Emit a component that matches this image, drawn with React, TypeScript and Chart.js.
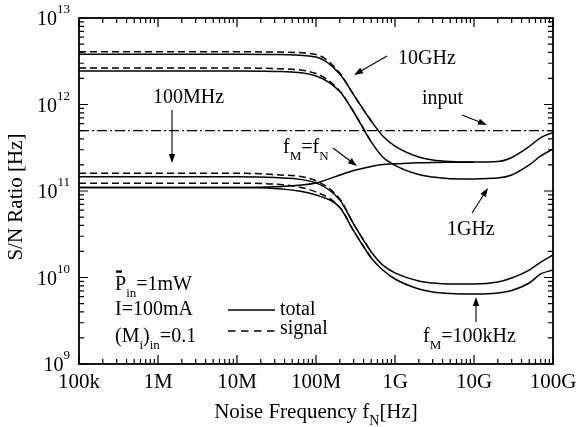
import React, { useEffect, useRef } from 'react';
import { Chart, registerables } from 'chart.js';

Chart.register(...registerables);

// ---------- data ----------
const freqs = [1e5, 1e6, 1e7, 3e7, 1e8, 2e8, 3e8, 5e8, 7e8, 1e9, 2e9, 3e9, 5e9, 1e10, 2e10, 3e10, 5e10, 7e10, 1e11];

const total10G = [3.8e12, 3.8e12, 3.8e12, 3.78e12, 3.54e12, 2.25e12, 1.29e12, 6.44e11, 4.32e11, 3.31e11, 2.47e11, 2.28e11, 2.19e11, 2.16e11, 2.19e11, 2.44e11, 3.27e11, 4.15e11, 4.75e11];
const signal10G = [4.08e12, 4.08e12, 4.08e12, 4.04e12, 3.78e12, 2.31e12, 1.29e12, 6.44e11, null, null, null, null, null, null, null, null, null, null, null];

const total1G = [2.44e12, 2.44e12, 2.44e12, 2.41e12, 2.14e12, 1.41e12, 8.19e11, 3.69e11, 2.47e11, 1.98e11, 1.55e11, 1.45e11, 1.39e11, 1.38e11, 1.41e11, 1.53e11, 2.0e11, 2.54e11, 3.06e11];
const signal1G = [2.64e12, 2.64e12, 2.64e12, 2.6e12, 2.28e12, 1.43e12, 8.19e11, 3.69e11, null, null, null, null, null, null, null, null, null, null, null];

const total100M = [1.46e11, 1.46e11, 1.46e11, 1.43e11, 1.24e11, 7.87e10, 4.15e10, 1.97e10, 1.39e10, 1.13e10, 9.11e9, 8.64e9, 8.41e9, 8.41e9, 8.87e9, 9.87e9, 1.22e10, 1.51e10, 1.82e10];
const signal100M = [1.6e11, 1.6e11, 1.6e11, 1.55e11, 1.31e11, 8.08e10, 4.15e10, 1.97e10, null, null, null, null, null, null, null, null, null, null, null];

const total100k = [1.1e11, 1.1e11, 1.1e11, 1.07e11, 8.99e10, 6.44e10, 3.45e10, 1.68e10, 1.22e10, 9.61e9, 7.36e9, 6.8e9, 6.53e9, 6.44e9, 6.62e9, 7.07e9, 8.64e9, 1.1e10, 1.22e10];
const signal100k = [1.23e11, 1.23e11, 1.23e11, 1.2e11, 9.73e10, 6.5e10, 3.45e10, 1.68e10, null, null, null, null, null, null, null, null, null, null, null];

const totalFmFn = [1.1e11, 1.1e11, 1.1e11, 1.12e11, 1.24e11, 1.53e11, 1.73e11, 1.92e11, 2.03e11, 2.06e11, 2.12e11, 2.14e11, 2.15e11, 2.16e11, null, null, null, null, null];

const inputLevel = 5.0e11;
const inputFreqs = [1e5, 1e11];

const xTickLabels = ['100k', '1M', '10M', '100M', '1G', '10G', '100G'];
const xDecadeExps = [5, 6, 7, 8, 9, 10, 11];
const yDecadeExps = [9, 10, 11, 12, 13];

const xTitle = [{ t: 'Noise Frequency f' }, { t: 'N', sub: true }, { t: '[Hz]' }];
const yTitle = 'S/N Ratio [Hz]';

// annotations (positions as log10 of data coordinates)
type Part = { t: string; sub?: boolean };
const labels: { parts: Part[]; lx: number; ly: number }[] = [
  { parts: [{ t: '10GHz' }], lx: 9.038, ly: 12.468 },
  { parts: [{ t: 'input' }], lx: 9.342, ly: 12.006 },
  { parts: [{ t: '100MHz' }], lx: 5.937, ly: 12.012 },
  { parts: [{ t: 'f' }, { t: 'M', sub: true }, { t: '=f' }, { t: 'N', sub: true }], lx: 7.582, ly: 11.439 },
  { parts: [{ t: '1GHz' }], lx: 9.658, ly: 10.491 },
  { parts: [{ t: 'f' }, { t: 'M', sub: true }, { t: '=100kHz' }], lx: 9.354, ly: 9.254 },
  { parts: [{ t: 'P' }, { t: 'in', sub: true }, { t: '=1mW' }], lx: 5.456, ly: 9.855 },
  { parts: [{ t: 'I=100mA' }], lx: 5.456, ly: 9.566 },
  { parts: [{ t: '(M' }, { t: 'i', sub: true }, { t: ')' }, { t: 'in', sub: true }, { t: '=0.1' }], lx: 5.456, ly: 9.254 },
  { parts: [{ t: 'total' }], lx: 7.544, ly: 9.566 },
  { parts: [{ t: 'signal' }], lx: 7.544, ly: 9.347 },
];

const arrows: { from: [number, number]; to: [number, number] }[] = [
  { from: [8.899, 12.561], to: [8.481, 12.341] },
  { from: [9.848, 11.879], to: [10.165, 11.763] },
  { from: [6.177, 11.936], to: [6.177, 11.324] },
  { from: [8.215, 11.497], to: [8.519, 11.289] },
  { from: [9.975, 10.746], to: [10.177, 11.035] },
  { from: [10.025, 9.486], to: [10.025, 9.775] },
];

const legendLines = [
  { lx1: 6.886, lx2: 7.481, ly: 9.624, dash: [] as number[] },
  { lx1: 6.886, lx2: 7.481, ly: 9.382, dash: [7.5, 5.5] },
];

// ---------- helpers ----------
const SERIF = '"Liberation Serif", "Times New Roman", Times, serif';

function pts(ys: (number | null)[]) {
  const out: { x: number; y: number }[] = [];
  ys.forEach((y, i) => {
    if (y !== null) out.push({ x: freqs[i], y });
  });
  return out;
}

function measureRich(ctx: CanvasRenderingContext2D, parts: Part[], size: number, subSize: number) {
  let w = 0;
  for (const p of parts) {
    ctx.font = `${p.sub ? subSize : size}px ${SERIF}`;
    w += ctx.measureText(p.t).width;
  }
  return w;
}

function drawRich(ctx: CanvasRenderingContext2D, x: number, y: number, parts: Part[], size = 20, subSize = 13, subDy = 7) {
  let cx = x;
  for (const p of parts) {
    ctx.font = `${p.sub ? subSize : size}px ${SERIF}`;
    ctx.fillText(p.t, cx, y + (p.sub ? subDy : 0));
    cx += ctx.measureText(p.t).width;
  }
  return cx - x;
}

function drawArrow(ctx: CanvasRenderingContext2D, x1: number, y1: number, x2: number, y2: number) {
  const ang = Math.atan2(y2 - y1, x2 - x1);
  const L = 9;
  const W = 3.2;
  ctx.beginPath();
  ctx.moveTo(x1, y1);
  ctx.lineTo(x2 - Math.cos(ang) * (L - 1), y2 - Math.sin(ang) * (L - 1));
  ctx.stroke();
  ctx.beginPath();
  ctx.moveTo(x2, y2);
  ctx.lineTo(x2 - Math.cos(ang) * L - Math.sin(ang) * W, y2 - Math.sin(ang) * L + Math.cos(ang) * W);
  ctx.lineTo(x2 - Math.cos(ang) * L + Math.sin(ang) * W, y2 - Math.sin(ang) * L - Math.cos(ang) * W);
  ctx.closePath();
  ctx.fill();
}

const decorPlugin = {
  id: 'decor',
  afterDatasetsDraw(chart: any) {
    const ctx: CanvasRenderingContext2D = chart.ctx;
    const xs = chart.scales.x;
    const ys = chart.scales.y;
    const { left, right, top, bottom } = chart.chartArea;
    const px = (lx: number) => xs.getPixelForValue(Math.pow(10, lx));
    const py = (ly: number) => ys.getPixelForValue(Math.pow(10, ly));
    ctx.save();
    ctx.strokeStyle = '#000';
    ctx.fillStyle = '#000';
    ctx.setLineDash([]);

    // ticks
    ctx.lineWidth = 1.2;
    const MAJ = 9;
    const MIN = 5;
    ctx.beginPath();
    for (let i = 0; i < xDecadeExps.length; i++) {
      const e = xDecadeExps[i];
      for (let k = 1; k <= 9; k++) {
        if (i === xDecadeExps.length - 1 && k > 1) break;
        const x = xs.getPixelForValue(k * Math.pow(10, e));
        const len = k === 1 ? MAJ : MIN;
        ctx.moveTo(x, bottom);
        ctx.lineTo(x, bottom - len);
        ctx.moveTo(x, top);
        ctx.lineTo(x, top + len);
      }
    }
    for (let i = 0; i < yDecadeExps.length; i++) {
      const e = yDecadeExps[i];
      for (let k = 1; k <= 9; k++) {
        if (i === yDecadeExps.length - 1 && k > 1) break;
        const y = ys.getPixelForValue(k * Math.pow(10, e));
        const len = k === 1 ? MAJ : MIN;
        ctx.moveTo(left, y);
        ctx.lineTo(left + len, y);
        ctx.moveTo(right, y);
        ctx.lineTo(right - len, y);
      }
    }
    ctx.stroke();

    // frame
    ctx.lineWidth = 1.8;
    ctx.strokeRect(left, top, right - left, bottom - top);

    // x tick labels
    ctx.textBaseline = 'alphabetic';
    ctx.textAlign = 'center';
    ctx.font = `21px ${SERIF}`;
    xDecadeExps.forEach((e, i) => {
      const x = xs.getPixelForValue(Math.pow(10, e));
      ctx.fillText(xTickLabels[i], x, bottom + 24);
    });

    // y tick labels 10^n
    ctx.textAlign = 'left';
    yDecadeExps.forEach((e) => {
      const y = ys.getPixelForValue(Math.pow(10, e));
      ctx.font = `20px ${SERIF}`;
      const wBase = ctx.measureText('10').width;
      ctx.font = `13px ${SERIF}`;
      const wSup = ctx.measureText(String(e)).width;
      const x0 = left - 9 - wBase - wSup;
      ctx.font = `20px ${SERIF}`;
      ctx.fillText('10', x0, y + 7);
      ctx.font = `13px ${SERIF}`;
      ctx.fillText(String(e), x0 + wBase, y - 5);
    });

    // x title
    const tw = measureRich(ctx, xTitle, 21, 14);
    drawRich(ctx, (left + right) / 2 - tw / 2, bottom + 54, xTitle, 21, 14, 7);

    // y title
    ctx.save();
    ctx.translate(left - 57, (top + bottom) / 2 + 6);
    ctx.rotate(-Math.PI / 2);
    ctx.textAlign = 'center';
    ctx.font = `21px ${SERIF}`;
    ctx.fillText(yTitle, 0, 0);
    ctx.restore();

    // annotation labels
    ctx.textAlign = 'left';
    labels.forEach((l) => {
      drawRich(ctx, px(l.lx), py(l.ly), l.parts, 20, 13, 7);
    });
    // bar over P
    const pl = labels[6];
    ctx.lineWidth = 2.4;
    ctx.beginPath();
    ctx.moveTo(px(pl.lx) + 1, py(pl.ly) - 18.5);
    ctx.lineTo(px(pl.lx) + 7, py(pl.ly) - 18.5);
    ctx.stroke();

    // arrows
    ctx.lineWidth = 1.1;
    arrows.forEach((a) => {
      drawArrow(ctx, px(a.from[0]), py(a.from[1]), px(a.to[0]), py(a.to[1]));
    });

    // legend lines
    ctx.lineWidth = 1.5;
    legendLines.forEach((l) => {
      ctx.setLineDash(l.dash);
      ctx.beginPath();
      ctx.moveTo(px(l.lx1), py(l.ly));
      ctx.lineTo(px(l.lx2), py(l.ly));
      ctx.stroke();
    });
    ctx.setLineDash([]);
    ctx.restore();
  },
};

function line(label: string, ys: (number | null)[], dash: number[] = []) {
  return {
    label,
    data: pts(ys),
    borderColor: '#000',
    borderWidth: 1.5,
    borderDash: dash,
    pointRadius: 0,
    fill: false,
    cubicInterpolationMode: 'monotone' as const,
  };
}

export default function App() {
  const ref = useRef<HTMLCanvasElement>(null);
  useEffect(() => {
    if (!ref.current) return;
    const chart = new Chart(ref.current, {
      type: 'line',
      data: {
        datasets: [
          line('total 10GHz', total10G),
          line('total 1GHz', total1G),
          line('total 100MHz', total100M),
          line('total 100kHz', total100k),
          line('fM=fN', totalFmFn),
          line('signal 10GHz', signal10G, [7, 4]),
          line('signal 1GHz', signal1G, [7, 4]),
          line('signal 100MHz', signal100M, [7, 4]),
          line('signal 100kHz', signal100k, [7, 4]),
          {
            label: 'input',
            data: inputFreqs.map((f) => ({ x: f, y: inputLevel })),
            borderColor: '#000',
            borderWidth: 1.2,
            borderDash: [10, 3, 2, 3],
            pointRadius: 0,
            fill: false,
          },
        ] as any,
      },
      options: {
        animation: false,
        responsive: false,
        maintainAspectRatio: false,
        layout: { padding: { left: 79, right: 23, top: 18, bottom: 63 } },
        plugins: { legend: { display: false }, tooltip: { enabled: false }, title: { display: false } },
        scales: {
          x: { type: 'logarithmic', min: 1e5, max: 1e11, display: false },
          y: { type: 'logarithmic', min: 1e9, max: 1e13, display: false },
        },
      },
      plugins: [decorPlugin],
    });
    return () => chart.destroy();
  }, []);
  return (
    <div style={{ position: 'absolute', left: 0, top: 0, width: 576, height: 427, background: '#fff' }}>
      <canvas ref={ref} width={576} height={427} style={{ display: 'block', width: 576, height: 427 }} />
    </div>
  );
}
